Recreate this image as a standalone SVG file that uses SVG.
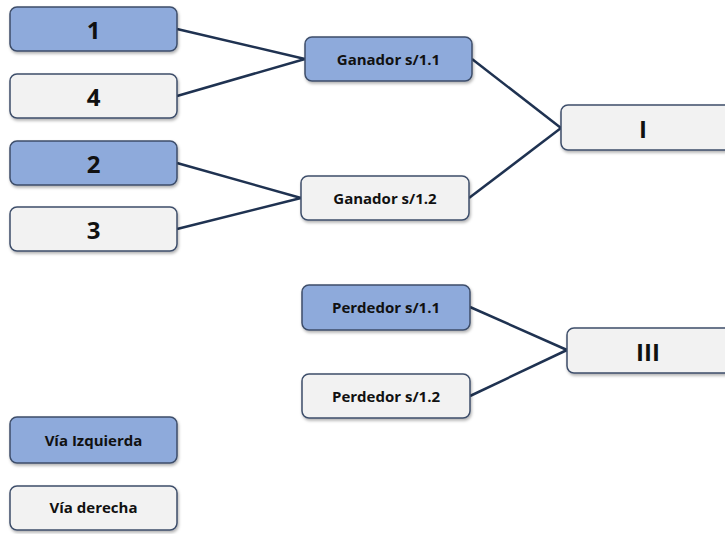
<svg xmlns="http://www.w3.org/2000/svg" width="725" height="534" viewBox="0 0 725 534">
<defs>
<filter id="sh" x="-10%" y="-20%" width="130%" height="160%">
<feDropShadow dx="1" dy="2" stdDeviation="1.5" flood-color="#000" flood-opacity="0.3"/>
</filter>
</defs>
<style>
.b{fill:#8eaadb;stroke:#3e4e6a;stroke-width:1.5;filter:url(#sh)}
.w{fill:#f2f2f2;stroke:#3e4e6a;stroke-width:1.5;filter:url(#sh)}
.big{font-family:"Open Sans","Liberation Sans",sans-serif;font-weight:bold;font-size:24px;fill:#111;text-anchor:middle}
.sm{font-family:"Open Sans","Liberation Sans",sans-serif;font-weight:bold;font-size:15px;fill:#111;text-anchor:middle}
.c line{stroke:#1f3251;stroke-width:2.5}
</style>
<g class="c">
<line x1="177" y1="29" x2="305" y2="59"/>
<line x1="177" y1="96" x2="305" y2="59"/>
<line x1="177" y1="163" x2="301" y2="198"/>
<line x1="177" y1="229" x2="301" y2="198"/>
<line x1="472" y1="59" x2="561" y2="128"/>
<line x1="469" y1="198" x2="561" y2="128"/>
<line x1="470" y1="307" x2="567" y2="350"/>
<line x1="470" y1="396" x2="567" y2="350"/>
</g>
<g id="n1"><rect class="b" x="10" y="7" width="167" height="44" rx="7"/><text class="big" x="93.5" y="39">1</text></g>
<g id="n4"><rect class="w" x="10" y="74" width="167" height="44" rx="7"/><text class="big" x="93.5" y="106">4</text></g>
<g id="n2"><rect class="b" x="10" y="141" width="167" height="44" rx="7"/><text class="big" x="93.5" y="173">2</text></g>
<g id="n3"><rect class="w" x="10" y="207" width="167" height="44" rx="7"/><text class="big" x="93.5" y="239">3</text></g>
<g id="g11"><rect class="b" x="305" y="37" width="167" height="44" rx="7"/><text class="sm" x="388.5" y="65">Ganador s/1.1</text></g>
<g id="g12"><rect class="w" x="301" y="176" width="168" height="44" rx="7"/><text class="sm" x="385" y="204">Ganador s/1.2</text></g>
<g id="nI"><rect class="w" x="561" y="105" width="175" height="45" rx="7"/><text class="big" x="643" y="138">I</text></g>
<g id="p11"><rect class="b" x="302" y="285" width="168" height="45" rx="7"/><text class="sm" x="386" y="313">Perdedor s/1.1</text></g>
<g id="p12"><rect class="w" x="302" y="374" width="168" height="44" rx="7"/><text class="sm" x="386" y="402">Perdedor s/1.2</text></g>
<g id="nIII"><rect class="w" x="567" y="328" width="170" height="45" rx="7"/><text class="big" x="648" y="361">III</text></g>
<g id="vi"><rect class="b" x="10" y="417" width="167" height="46" rx="7"/><text class="sm" x="93.5" y="446">Vía Izquierda</text></g>
<g id="vd"><rect class="w" x="10" y="486" width="167" height="44" rx="7"/><text class="sm" x="93.5" y="513">Vía derecha</text></g>
</svg>
